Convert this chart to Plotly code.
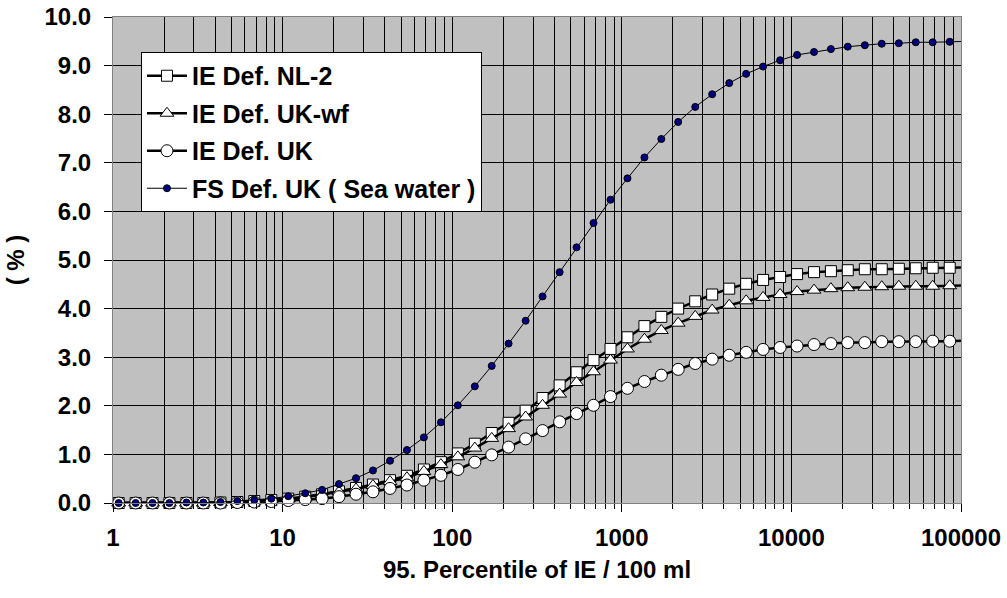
import plotly.graph_objects as go

# 95th percentile of IE per 100 ml (sample points, last one only carries the line to the edge)
x_vals = [1.08, 1.36, 1.71, 2.15, 2.71, 3.41, 4.30, 5.41, 6.81, 8.58,
          10.8, 13.6, 17.1, 21.5, 27.1, 34.1, 43.0, 54.1, 68.1, 85.8,
          108, 136, 171, 215, 271, 341, 430, 541, 681, 858,
          1080, 1360, 1710, 2150, 2710, 3410, 4300, 5410, 6810, 8580,
          10800, 13600, 17100, 21500, 27100, 34100, 43000, 54100, 68100, 85800,
          110000]

ie_nl2 = [0.00, 0.00, 0.00, 0.00, 0.00, 0.00, 0.01, 0.02, 0.04, 0.06,
          0.09, 0.13, 0.18, 0.24, 0.31, 0.38, 0.47, 0.56, 0.69, 0.84,
          1.02, 1.22, 1.44, 1.65, 1.90, 2.16, 2.42, 2.69, 2.94, 3.17,
          3.41, 3.64, 3.83, 4.00, 4.15, 4.29, 4.41, 4.51, 4.59, 4.65,
          4.71, 4.75, 4.77, 4.79, 4.81, 4.81, 4.82, 4.83, 4.84, 4.84,
          4.85]

ie_ukwf = [0.00, 0.00, 0.00, 0.00, 0.00, 0.00, 0.01, 0.02, 0.04, 0.06,
           0.09, 0.12, 0.17, 0.23, 0.29, 0.36, 0.44, 0.52, 0.65, 0.79,
           0.95, 1.13, 1.33, 1.53, 1.77, 2.01, 2.24, 2.48, 2.70, 2.94,
           3.17, 3.37, 3.55, 3.70, 3.84, 3.97, 4.07, 4.16, 4.23, 4.29,
           4.35, 4.38, 4.41, 4.43, 4.44, 4.45, 4.46, 4.46, 4.46, 4.47,
           4.48]

ie_uk = [0.00, 0.00, 0.00, 0.00, 0.00, 0.00, 0.00, 0.01, 0.02, 0.03,
         0.05, 0.07, 0.09, 0.13, 0.18, 0.23, 0.30, 0.37, 0.47, 0.57,
         0.69, 0.84, 0.99, 1.15, 1.32, 1.49, 1.67, 1.84, 2.01, 2.19,
         2.36, 2.50, 2.63, 2.75, 2.87, 2.96, 3.04, 3.10, 3.16, 3.20,
         3.23, 3.26, 3.28, 3.30, 3.30, 3.32, 3.32, 3.32, 3.33, 3.33,
         3.34]

fs_uk_sea = [0.00, 0.00, 0.00, 0.00, 0.01, 0.01, 0.02, 0.04, 0.06, 0.09,
             0.14, 0.20, 0.27, 0.39, 0.51, 0.67, 0.87, 1.09, 1.35, 1.66,
             2.01, 2.40, 2.82, 3.28, 3.75, 4.25, 4.75, 5.26, 5.76, 6.24,
             6.68, 7.11, 7.49, 7.84, 8.15, 8.41, 8.64, 8.83, 8.98, 9.11,
             9.22, 9.28, 9.34, 9.39, 9.42, 9.45, 9.46, 9.48, 9.48, 9.49,
             9.50]

y_ticks = [0, 1, 2, 3, 4, 5, 6, 7, 8, 9, 10]
x_ticks = [1, 10, 100, 1000, 10000, 100000]

FONT = "Liberation Sans, Arial, sans-serif"
FS = 24
# hide the marker on the last point (it only extends the line)
opac = [1] * (len(x_vals) - 1) + [0]

series = [
    ("IE Def. NL-2", ie_nl2, "square", "white", 11, 2.5),
    ("IE Def. UK-wf", ie_ukwf, "triangle-up", "white", 12, 2.5),
    ("IE Def. UK", ie_uk, "circle", "white", 12, 2.5),
    ("FS Def. UK ( Sea water )", fs_uk_sea, "circle", "#000080", 7, 1),
]

fig = go.Figure()
for i, (name, ys, sym, fill, size, lw) in enumerate(series):
    fig.add_trace(go.Scatter(
        x=x_vals, y=ys, name=name, mode="lines+markers",
        line=dict(color="black", width=lw),
        marker=dict(symbol=sym, color=fill, size=size, opacity=opac,
                    line=dict(color="black", width=1)),
        cliponaxis=False, legendgroup=f"g{i}",
    ))

fig.update_layout(
    width=1007, height=598,
    margin=dict(l=113, r=46, t=17, b=95),
    paper_bgcolor="white", plot_bgcolor="#c0c0c0",
    font=dict(family=FONT, size=FS, color="black"),
    showlegend=True,
    legend=dict(
        x=0.033, y=0.928, xanchor="left", yanchor="top",
        bgcolor="white", bordercolor="black", borderwidth=1,
        font=dict(family=FONT, size=25, color="black", weight="bold"),
        traceorder="grouped", tracegroupgap=2,
        itemwidth=40,
    ),
)
fig.update_xaxes(
    type="log", range=[0, 5], automargin=False, ticklabeloverflow="allow",
    tickvals=x_ticks, ticktext=[str(v) for v in x_ticks],
    ticks="outside", ticklen=8, tickcolor="black", ticklabelstandoff=5,
    tickfont=dict(family=FONT, size=FS, weight="bold"),
    showgrid=True, gridcolor="black", gridwidth=1,
    minor=dict(dtick="D1", showgrid=True, gridcolor="black", gridwidth=1,
               ticks="outside", ticklen=5, tickcolor="black"),
    showline=True, linecolor="#808080", linewidth=1, mirror=True,
    zeroline=False,
    title=dict(text="<b>95. Percentile of IE / 100 ml</b>", standoff=11,
               font=dict(family=FONT, size=FS)),
)
fig.update_yaxes(
    range=[0, 10], automargin=False, ticklabeloverflow="allow",
    tickvals=y_ticks, tickformat=".1f",
    ticks="outside", ticklen=8, tickcolor="black", ticklabelstandoff=8,
    tickfont=dict(family=FONT, size=FS, weight="bold"),
    showgrid=True, gridcolor="black", gridwidth=1,
    showline=True, linecolor="#808080", linewidth=1, mirror=True,
    zeroline=False,
    title=dict(text=" <b>( % )</b>", standoff=13,
               font=dict(family=FONT, size=FS)),
)

# drop the default 8px page margin so the figure fills the window exactly
fig.write_html("out.html", config={"displayModeBar": False},
               post_script="document.body.style.margin='0px';")
